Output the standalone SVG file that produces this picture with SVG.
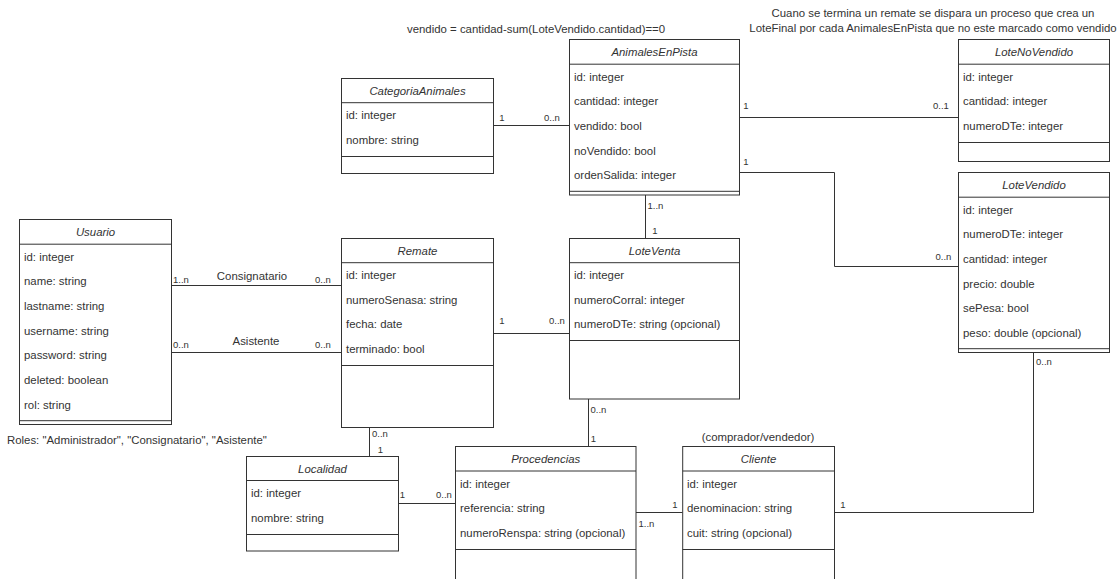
<svg xmlns="http://www.w3.org/2000/svg" width="1119" height="579" viewBox="0 0 1119 579">
<style>
.box{fill:#fff;stroke:#333;stroke-width:1}
.sep{stroke:#333;stroke-width:1}
.t{font-family:"Liberation Sans",Arial,sans-serif;font-size:11.4px;fill:#333}
.h{font-family:"Liberation Sans",Arial,sans-serif;font-size:11.4px;fill:#333;font-style:italic;text-anchor:middle}
.m{font-family:"Liberation Sans",Arial,sans-serif;font-size:9.5px;fill:#333}
.c{fill:none;stroke:#333;stroke-width:1}
.mid{text-anchor:middle}
</style>
<rect width="1119" height="579" fill="#fff"/>

<g id="connectors">
<path class="c" d="M171 285.5H341.5"/>
<path class="c" d="M171 352.5H341.5"/>
<path class="c" d="M493.5 333.5H569"/>
<path class="c" d="M493.5 125.5H569"/>
<path class="c" d="M645.5 195V238"/>
<path class="c" d="M739.5 117.5H958"/>
<path class="c" d="M739.5 172.5H834.5V266.5H958"/>
<path class="c" d="M1033.5 352.6V512.5H834.5"/>
<path class="c" d="M369.5 427.7V456"/>
<path class="c" d="M588.5 399V446.7"/>
<path class="c" d="M398.5 503.5H455"/>
<path class="c" d="M636 512.5H682.7"/>
<text class="m" x="173" y="283">1..n</text>
<text class="t mid" x="252" y="280">Consignatario</text>
<text class="m" x="315" y="283">0..n</text>
<text class="m" x="173" y="348">0..n</text>
<text class="t mid" x="256" y="345">Asistente</text>
<text class="m" x="315" y="348">0..n</text>
<text class="m mid" x="502" y="324">1</text>
<text class="m" x="549" y="324">0..n</text>
<text class="m mid" x="502" y="121">1</text>
<text class="m" x="544" y="121">0..n</text>
<text class="m" x="647.5" y="209">1..n</text>
<text class="m mid" x="655" y="234">1</text>
<text class="m mid" x="746" y="109">1</text>
<text class="m" x="933" y="109">0..1</text>
<text class="m mid" x="746" y="165">1</text>
<text class="m" x="935.5" y="260">0..n</text>
<text class="m" x="1036" y="365">0..n</text>
<text class="m mid" x="843" y="508">1</text>
<text class="m mid" x="675" y="508">1</text>
<text class="m" x="638.5" y="527">1..n</text>
<text class="m" x="372" y="437">0..n</text>
<text class="m mid" x="380.5" y="453">1</text>
<text class="m" x="590.5" y="413">0..n</text>
<text class="m mid" x="593.5" y="442">1</text>
<text class="m mid" x="402.5" y="498">1</text>
<text class="m" x="436" y="498">0..n</text>
</g>

<g id="notes">
<text class="t" x="407" y="33">vendido = cantidad-sum(LoteVendido.cantidad)==0</text>
<text class="t mid" x="933" y="17">Cuano se termina un remate se dispara un proceso que crea un</text>
<text class="t mid" x="933" y="32">LoteFinal por cada AnimalesEnPista que no este marcado como vendido</text>
<text class="t" x="7" y="444">Roles: "Administrador", "Consignatario", "Asistente"</text>
<text class="t mid" x="758" y="441">(comprador/vendedor)</text>
</g>

<g id="Usuario">
<rect class="box" x="19.5" y="219.5" width="152" height="205"/>
<path class="sep" d="M19.5 244.2H171.5M19.5 420.7H171.5"/>
<text class="h" x="95.5" y="236">Usuario</text>
<text class="t" x="24" y="260.5">id: integer</text>
<text class="t" x="24" y="285.2">name: string</text>
<text class="t" x="24" y="309.9">lastname: string</text>
<text class="t" x="24" y="334.6">username: string</text>
<text class="t" x="24" y="359.3">password: string</text>
<text class="t" x="24" y="384">deleted: boolean</text>
<text class="t" x="24" y="408.7">rol: string</text>
</g>

<g id="CategoriaAnimales">
<rect class="box" x="341.5" y="78.5" width="152" height="95"/>
<path class="sep" d="M341.5 102.7H493.5M341.5 156.5H493.5"/>
<text class="h" x="417.5" y="95">CategoriaAnimales</text>
<text class="t" x="346" y="119">id: integer</text>
<text class="t" x="346" y="143.7">nombre: string</text>
</g>

<g id="AnimalesEnPista">
<rect class="box" x="569.5" y="39.5" width="170" height="155.5"/>
<path class="sep" d="M569.5 64.2H739.5M569.5 191.3H739.5"/>
<text class="h" x="654.5" y="56">AnimalesEnPista</text>
<text class="t" x="574" y="80.5">id: integer</text>
<text class="t" x="574" y="105.2">cantidad: integer</text>
<text class="t" x="574" y="129.9">vendido: bool</text>
<text class="t" x="574" y="154.6">noVendido: bool</text>
<text class="t" x="574" y="179.3">ordenSalida: integer</text>
</g>

<g id="LoteNoVendido">
<rect class="box" x="958.5" y="39.5" width="151" height="122"/>
<path class="sep" d="M958.5 64.2H1109.5M958.5 142.5H1109.5"/>
<text class="h" x="1034" y="56">LoteNoVendido</text>
<text class="t" x="963" y="80.5">id: integer</text>
<text class="t" x="963" y="105.2">cantidad: integer</text>
<text class="t" x="963" y="129.9">numeroDTe: integer</text>
</g>

<g id="LoteVendido">
<rect class="box" x="958.5" y="172.5" width="151" height="180"/>
<path class="sep" d="M958.5 197.2H1109.5M958.5 348.7H1109.5"/>
<text class="h" x="1034" y="189">LoteVendido</text>
<text class="t" x="963" y="213.5">id: integer</text>
<text class="t" x="963" y="238.2">numeroDTe: integer</text>
<text class="t" x="963" y="262.9">cantidad: integer</text>
<text class="t" x="963" y="287.6">precio: double</text>
<text class="t" x="963" y="312.3">sePesa: bool</text>
<text class="t" x="963" y="337">peso: double (opcional)</text>
</g>

<g id="Remate">
<rect class="box" x="341.5" y="238.5" width="152" height="189"/>
<path class="sep" d="M341.5 262.7H493.5M341.5 365.5H493.5"/>
<text class="h" x="417.5" y="255">Remate</text>
<text class="t" x="346" y="279">id: integer</text>
<text class="t" x="346" y="303.7">numeroSenasa: string</text>
<text class="t" x="346" y="328.4">fecha: date</text>
<text class="t" x="346" y="353.1">terminado: bool</text>
</g>

<g id="LoteVenta">
<rect class="box" x="569.5" y="238.5" width="170" height="160.5"/>
<path class="sep" d="M569.5 262.7H739.5M569.5 340.5H739.5"/>
<text class="h" x="654.5" y="255">LoteVenta</text>
<text class="t" x="574" y="279">id: integer</text>
<text class="t" x="574" y="303.7">numeroCorral: integer</text>
<text class="t" x="574" y="328.4">numeroDTe: string (opcional)</text>
</g>

<g id="Localidad">
<rect class="box" x="246.5" y="456.5" width="152" height="94.5"/>
<path class="sep" d="M246.5 480.5H398.5M246.5 534.5H398.5"/>
<text class="h" x="322.5" y="472.5">Localidad</text>
<text class="t" x="251" y="497">id: integer</text>
<text class="t" x="251" y="521.7">nombre: string</text>
</g>

<g id="Procedencias">
<rect class="box" x="455.5" y="446.5" width="180.5" height="160"/>
<path class="sep" d="M455.5 471H636M455.5 549.5H636"/>
<text class="h" x="545.7" y="463">Procedencias</text>
<text class="t" x="460" y="487.5">id: integer</text>
<text class="t" x="460" y="512.2">referencia: string</text>
<text class="t" x="460" y="536.9">numeroRenspa: string (opcional)</text>
</g>

<g id="Cliente">
<rect class="box" x="682.7" y="446.5" width="151.8" height="160"/>
<path class="sep" d="M682.7 471H834.5M682.7 549.5H834.5"/>
<text class="h" x="758.6" y="463">Cliente</text>
<text class="t" x="687" y="487.5">id: integer</text>
<text class="t" x="687" y="512.2">denominacion: string</text>
<text class="t" x="687" y="536.9">cuit: string (opcional)</text>
</g>
</svg>
